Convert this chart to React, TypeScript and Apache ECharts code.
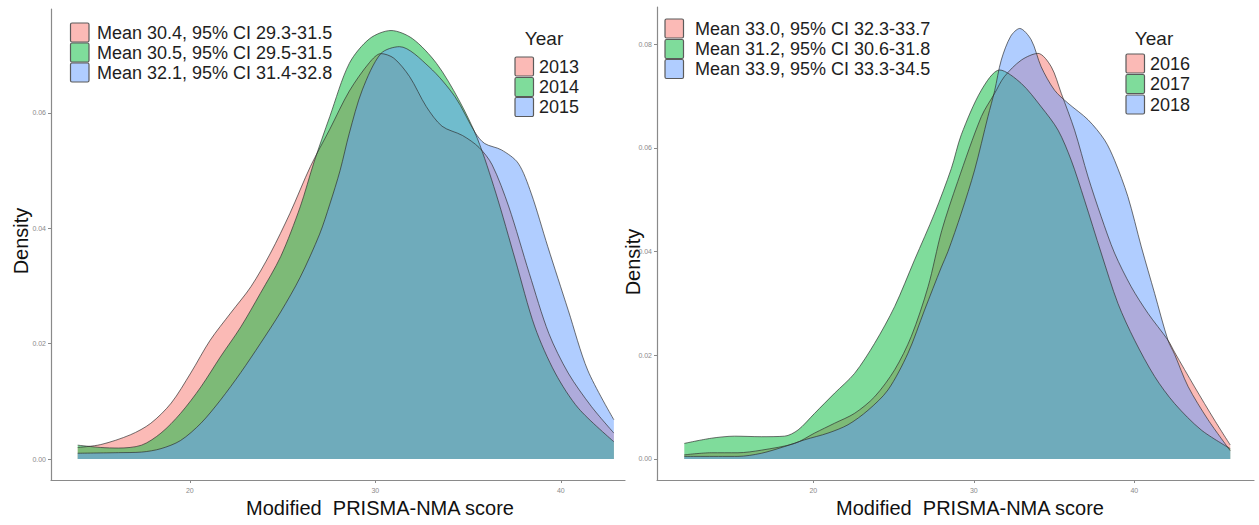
import React, { useEffect, useRef } from "react";
import * as echarts from "echarts";

// ggplot-style default hues for three groups
const FILLS = ["#F8766D", "#00BA38", "#619CFF"];

const yearsA = ["2013", "2014", "2015"];
const yearsB = ["2016", "2017", "2018"];

const meanLabelsA = [
  "Mean 30.4, 95% CI 29.3-31.5",
  "Mean 30.5, 95% CI 29.5-31.5",
  "Mean 32.1, 95% CI 31.4-32.8",
];
const meanLabelsB = [
  "Mean 33.0, 95% CI 32.3-33.7",
  "Mean 31.2, 95% CI 30.6-31.8",
  "Mean 33.9, 95% CI 33.3-34.5",
];

const xTicks = [20, 30, 40];
const yTicksA = [0, 0.02, 0.04, 0.06];
const yTicksB = [0, 0.02, 0.04, 0.06, 0.08];

const xTitle = "Modified  PRISMA-NMA score";
const yTitle = "Density";
const legendTitle = "Year";

// Kernel density estimates of the score, [score, density]
const dens2013: [number, number][] = [
  [13.96, 0.002], [15.2, 0.0025], [16.8, 0.0042], [17.9, 0.0062], [19.0, 0.0097],
  [20.05, 0.0149], [21.1, 0.0206], [22.2, 0.0253], [23.3, 0.0299], [24.35, 0.0357],
  [25.4, 0.0426], [26.5, 0.0507], [27.55, 0.0572], [28.6, 0.0638], [29.7, 0.0688],
  [30.3, 0.0703], [31.0, 0.0695], [31.85, 0.0663], [32.75, 0.0611], [33.6, 0.0577],
  [34.7, 0.0561], [35.6, 0.054], [36.3, 0.051], [37.2, 0.0437], [38.3, 0.0322],
  [39.35, 0.0218], [40.4, 0.0149], [41.65, 0.0091], [42.86, 0.0045],
];
const dens2014: [number, number][] = [
  [13.96, 0.0024], [15.2, 0.002], [16.15, 0.0019], [17.4, 0.0024], [18.45, 0.0045],
  [19.5, 0.0079], [20.6, 0.0125], [21.65, 0.0177], [22.75, 0.0229], [23.8, 0.0287],
  [24.9, 0.0351], [25.95, 0.0437], [26.7, 0.0515], [27.55, 0.0594], [28.6, 0.0686],
  [29.7, 0.0729], [30.85, 0.0743], [32.0, 0.0729], [33.3, 0.0686], [34.5, 0.0623],
  [35.5, 0.0556], [36.5, 0.0461], [37.55, 0.0345], [38.6, 0.0229], [39.7, 0.0149],
  [40.95, 0.0088], [42.86, 0.003],
];
const dens2015: [number, number][] = [
  [13.96, 0.001], [16.15, 0.0011], [17.4, 0.0012], [18.45, 0.0018], [19.5, 0.0032],
  [20.6, 0.0062], [21.65, 0.0102], [22.75, 0.015], [23.8, 0.02], [24.9, 0.0255],
  [25.95, 0.0315], [27.0, 0.039], [27.55, 0.0442], [28.1, 0.05], [28.6, 0.0565],
  [29.3, 0.064], [30.3, 0.0703], [31.3, 0.0715], [32.9, 0.068], [34.3, 0.0628],
  [35.4, 0.0565], [35.9, 0.0547], [36.8, 0.0536], [37.7, 0.0513], [38.4, 0.0461],
  [39.3, 0.0368], [40.4, 0.0258], [41.45, 0.0154], [42.86, 0.0068],
];
const dens2016: [number, number][] = [
  [11.96, 0.0008], [13.64, 0.0012], [15.3, 0.0012], [16.76, 0.0017], [18.84, 0.003],
  [20.08, 0.005], [21.33, 0.0069], [22.57, 0.0088], [23.82, 0.012], [25.07, 0.0172],
  [26.1, 0.0236], [27.15, 0.0332], [28.0, 0.044], [29.0, 0.0535], [30.47, 0.066],
  [31.3, 0.0705], [31.9, 0.0737], [32.96, 0.0769], [34.0, 0.0782], [34.83, 0.0756],
  [35.45, 0.0705], [36.28, 0.0634], [37.12, 0.0544], [37.94, 0.0467], [38.77, 0.0397],
  [39.81, 0.0332], [40.85, 0.0281], [42.1, 0.0229], [42.51, 0.0206], [43.76, 0.0139],
  [45.0, 0.0075], [45.98, 0.0027],
];
const dens2017: [number, number][] = [
  [11.96, 0.003], [13.64, 0.004], [15.1, 0.0044], [16.76, 0.0043], [18.21, 0.0044],
  [19.05, 0.0056], [20.08, 0.0088], [21.33, 0.0127], [22.57, 0.0165], [23.82, 0.0223],
  [25.07, 0.0294], [26.31, 0.0384], [27.56, 0.0474], [28.6, 0.056], [29.22, 0.0625],
  [30.47, 0.0711], [31.61, 0.075], [32.96, 0.0724], [34.2, 0.0679], [35.25, 0.0634],
  [36.07, 0.0576], [36.9, 0.0499], [37.94, 0.0397], [38.98, 0.03], [40.02, 0.0229],
  [41.27, 0.0159], [42.51, 0.0107], [44.17, 0.0056], [45.98, 0.002],
];
const dens2018: [number, number][] = [
  [11.96, 0.0005], [15.3, 0.0005], [16.76, 0.0011], [18.21, 0.0024], [19.46, 0.0037],
  [20.92, 0.005], [22.16, 0.0066], [23.41, 0.0094], [24.65, 0.0133], [25.9, 0.0204],
  [26.93, 0.0287], [27.98, 0.037], [28.39, 0.04], [29.22, 0.0474], [30.05, 0.0557],
  [30.88, 0.066], [31.3, 0.071], [31.71, 0.0769], [32.3, 0.0815], [32.86, 0.083],
  [33.58, 0.0808], [34.2, 0.0756], [35.03, 0.0711], [35.87, 0.0686], [37.12, 0.0654],
  [38.15, 0.0615], [38.77, 0.0576], [39.6, 0.0506], [40.44, 0.0409], [41.27, 0.0319],
  [42.1, 0.0229], [42.51, 0.0202], [43.35, 0.014], [44.59, 0.0076], [45.98, 0.0016],
];

const panelA = [dens2013, dens2014, dens2015];
const panelB = [dens2016, dens2017, dens2018];

const FONT = "Liberation Sans, Arial, Helvetica, sans-serif";
const AXIS_GRAY = "#8a8a8a";

function rgba(hex: string, a: number) {
  const n = parseInt(hex.slice(1), 16);
  return `rgba(${(n >> 16) & 255},${(n >> 8) & 255},${n & 255},${a})`;
}

function densitySeries(name: string, data: [number, number][], color: string, idx: number) {
  return {
    type: "line",
    name,
    data,
    xAxisIndex: idx,
    yAxisIndex: idx,
    showSymbol: false,
    symbol: "none",
    smooth: 0.3,
    silent: true,
    lineStyle: { color: "#2e2e2e", width: 0.8, opacity: 0.85 },
    areaStyle: { color, opacity: 0.5, origin: "auto" },
  };
}

function xAxisDef(idx: number, min: number, max: number) {
  return {
    type: "value",
    gridIndex: idx,
    min,
    max,
    axisLine: { show: true, onZero: false, lineStyle: { color: AXIS_GRAY, width: 1.2 } },
    axisTick: { show: true, length: 3, customValues: xTicks, lineStyle: { color: AXIS_GRAY } },
    axisLabel: { customValues: xTicks, fontSize: 7, color: "#8a8a8a", margin: 7, fontFamily: FONT },
    splitLine: { show: false },
  };
}

function yAxisDef(idx: number, min: number, max: number, ticks: number[]) {
  return {
    type: "value",
    gridIndex: idx,
    min,
    max,
    axisLine: { show: true, onZero: false, lineStyle: { color: AXIS_GRAY, width: 1.2 } },
    axisTick: { show: true, length: 3, customValues: ticks, lineStyle: { color: AXIS_GRAY } },
    axisLabel: {
      customValues: ticks,
      fontSize: 7,
      color: "#8a8a8a",
      margin: 5,
      fontFamily: FONT,
      formatter: (v: number) => v.toFixed(2),
    },
    splitLine: { show: false },
  };
}

function legendBlock(x: number, tops: number[], labels: string[], textX: number) {
  const out: any[] = [];
  labels.forEach((label, i) => {
    out.push({
      type: "rect",
      shape: { x, y: tops[i], width: 18.5, height: 19, r: 1.5 },
      style: { fill: rgba(FILLS[i], 0.5), stroke: "#5a5a5a", lineWidth: 1.2 },
      silent: true,
    });
    out.push({
      type: "text",
      x: textX,
      y: tops[i] + 9.5,
      style: {
        text: label,
        fontSize: 18,
        fontFamily: FONT,
        fill: "#1e1e1e",
        verticalAlign: "middle",
        align: "left",
      },
      silent: true,
    });
  });
  return out;
}

function titleText(text: string, x: number, y: number, rotation = 0) {
  return {
    type: "text",
    x,
    y,
    rotation,
    style: {
      text,
      fontSize: 20,
      fontFamily: FONT,
      fill: "#111",
      align: "center",
      verticalAlign: "middle",
    },
    silent: true,
  };
}

export default function App() {
  const ref = useRef<HTMLDivElement>(null);

  useEffect(() => {
    document.body.style.margin = "0";
    if (!ref.current) return;
    const chart = echarts.init(ref.current, null, { renderer: "svg" });

    const graphic: any[] = [
      ...legendBlock(70.5, [23, 43, 63], meanLabelsA, 97),
      {
        type: "text",
        x: 544,
        y: 38,
        style: { text: legendTitle, fontSize: 19, fontFamily: FONT, fill: "#1e1e1e", align: "center", verticalAlign: "middle" },
        silent: true,
      },
      ...legendBlock(515, [57, 77.5, 97.5], yearsA, 539),
      ...legendBlock(665, [19, 39.5, 59.5], meanLabelsB, 695),
      {
        type: "text",
        x: 1154,
        y: 38,
        style: { text: legendTitle, fontSize: 19, fontFamily: FONT, fill: "#1e1e1e", align: "center", verticalAlign: "middle" },
        silent: true,
      },
      ...legendBlock(1126, [54, 74.5, 95], yearsB, 1150),
      titleText(xTitle, 380, 508),
      titleText(xTitle, 970, 508),
      titleText(yTitle, 21, 241, Math.PI / 2),
      titleText(yTitle, 633, 262, Math.PI / 2),
    ];

    chart.setOption({
      animation: false,
      backgroundColor: "#ffffff",
      textStyle: { fontFamily: FONT },
      grid: [
        { left: 51, top: 9, width: 574, height: 471 },
        { left: 657, top: 7, width: 597, height: 473 },
      ],
      xAxis: [xAxisDef(0, 12.52, 43.46), xAxisDef(1, 10.26, 47.46)],
      yAxis: [
        yAxisDef(0, -0.00364, 0.07803, yTicksA),
        yAxisDef(1, -0.00405, 0.08714, yTicksB),
      ],
      series: [
        ...panelA.map((d, i) => densitySeries(yearsA[i], d, FILLS[i], 0)),
        ...panelB.map((d, i) => densitySeries(yearsB[i], d, FILLS[i], 1)),
      ],
      graphic,
    });

    return () => chart.dispose();
  }, []);

  return <div ref={ref} style={{ width: 1259, height: 525 }} />;
}
